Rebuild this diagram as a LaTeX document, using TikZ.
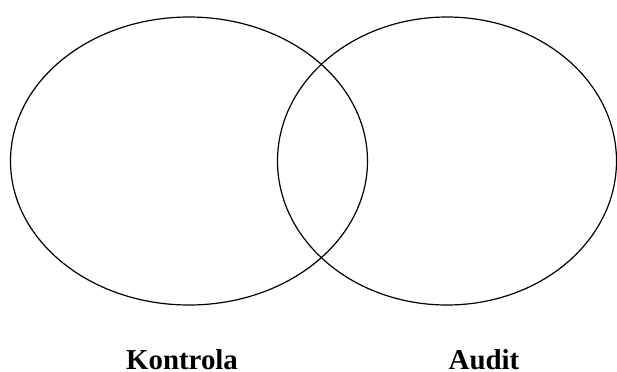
\documentclass[tikz,border=0pt]{standalone}
\usepackage{fontspec}
\setmainfont{Liberation Serif}
\begin{document}
\begin{tikzpicture}[x=1bp,y=-1bp,
  venn/.style={draw=black,line width=1.2bp},
  lbl/.style={font=\fontsize{29}{33}\selectfont\bfseries,anchor=base,inner sep=0pt}]
\useasboundingbox (0,0) rectangle (617,371);
\draw[venn] (189,161) ellipse [x radius=178.5, y radius=144];
\draw[venn] (447,161) ellipse [x radius=169.5, y radius=144];
\node[lbl] (k) at (182,369) {Kontrola};
\node[lbl] (a) at (484,369) {Audit};
\end{tikzpicture}
\end{document}
